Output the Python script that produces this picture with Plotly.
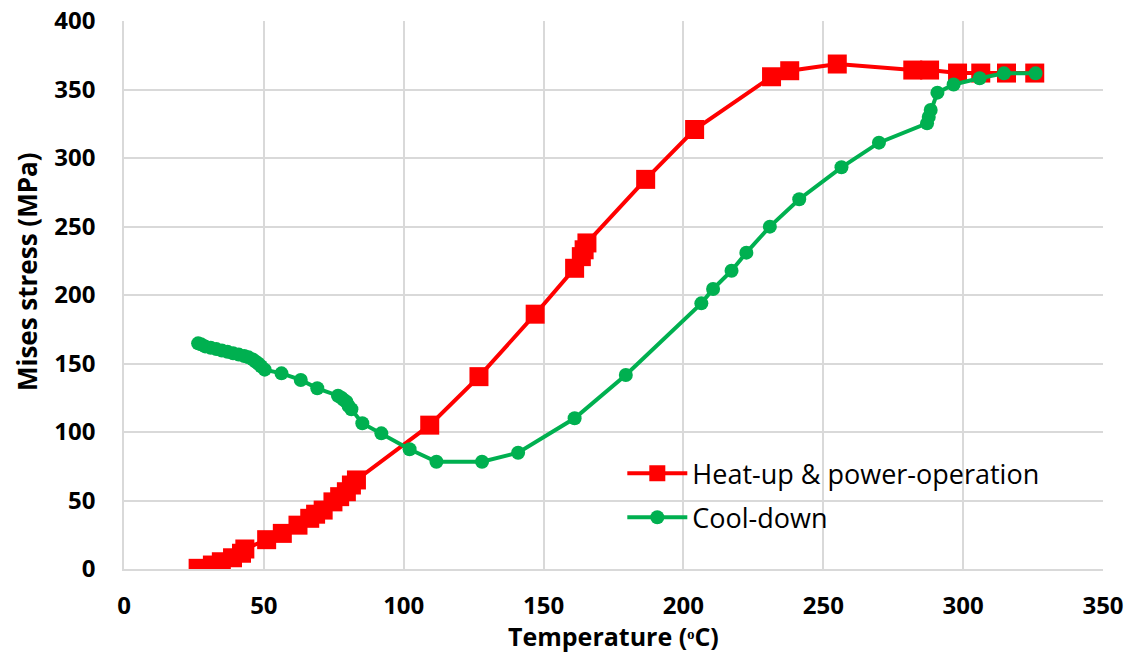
import plotly.graph_objects as go

# Heat-up & power-operation (temperature in degC, Mises stress in MPa)
heat_temp = [26.5, 31.6, 34.8, 38.8, 42.0, 43.2, 51.0, 56.6, 62.2, 66.4, 68.5, 71.2,
             74.7, 77.1, 79.5, 81.3, 83.1, 109.3, 126.9, 147.0, 161.1, 163.5, 164.5,
             165.5, 186.5, 204.0, 231.5, 238.0, 255.0, 282.0, 288.0, 298.0, 306.3,
             315.5, 325.6]
heat_stress = [0.5, 2.9, 5.3, 8.2, 11.5, 14.6, 21.4, 26.0, 32.0, 37.0, 40.0, 43.0,
               49.0, 52.8, 56.4, 61.3, 65.0, 105.0, 140.4, 186.0, 219.5, 228.0, 233.0,
               238.0, 284.4, 320.8, 359.3, 363.7, 368.6, 364.2, 364.2, 362.0, 362.0,
               362.0, 362.0]

# Cool-down
cool_temp = [325.9, 314.6, 305.9, 296.6, 290.8, 288.4, 287.7, 287.1, 269.9, 256.5,
             241.4, 230.9, 222.5, 217.2, 210.6, 206.4, 179.4, 161.1, 140.9, 128.0,
             111.7, 102.1, 92.0, 85.2, 81.3, 80.3, 79.5, 78.5, 77.7, 76.5, 69.1, 63.2,
             56.3, 50.3, 49.0, 48.0, 47.0, 46.0, 44.5, 43.0, 41.0, 39.0, 37.0, 35.0,
             33.0, 31.0, 29.0, 27.5, 26.5]
cool_stress = [361.8, 361.8, 358.2, 353.7, 347.7, 335.0, 330.0, 325.3, 311.2, 293.2,
               269.9, 249.9, 230.9, 217.7, 204.4, 193.9, 141.6, 110.0, 84.9, 78.3,
               78.3, 87.4, 99.0, 106.4, 116.6, 119.0, 122.1, 123.5, 125.0, 126.5, 131.9,
               138.0, 142.8, 145.5, 148.0, 150.0, 151.5, 153.0, 154.5, 155.5, 156.5,
               157.5, 158.5, 159.5, 160.5, 161.5, 162.5, 164.0, 164.7]

x_ticks = [0, 50, 100, 150, 200, 250, 300, 350]
y_ticks = [0, 50, 100, 150, 200, 250, 300, 350, 400]

RED = "#FF0000"
GREEN = "#00B050"
GRID = "#D9D9D9"
FONT = "Open Sans"

fig = go.Figure()
fig.add_trace(go.Scatter(
    x=heat_temp, y=heat_stress, mode="lines+markers",
    name="Heat-up & power-operation", legendgroup="a",
    line=dict(color=RED, width=4),
    marker=dict(symbol="square", size=19, color=RED),
))
fig.add_trace(go.Scatter(
    x=cool_temp, y=cool_stress, mode="lines+markers",
    name="Cool-down", legendgroup="b",
    line=dict(color=GREEN, width=4),
    marker=dict(symbol="circle", size=14, color=GREEN),
))

fig.update_layout(
    width=1133, height=654,
    margin=dict(l=124, r=30, t=21, b=85),
    paper_bgcolor="white", plot_bgcolor="white",
    font=dict(family=FONT, color="#000000"),
    legend=dict(
        x=0.509, y=0.2187, xanchor="left", yanchor="top",
        bgcolor="rgba(0,0,0,0)", font=dict(family=FONT, size=27, color="#000000"),
        itemwidth=60, tracegroupgap=6, traceorder="grouped",
    ),
    xaxis=dict(
        range=[0, 350], tickvals=x_ticks, ticktext=[str(v) for v in x_ticks],
        showgrid=True, gridcolor=GRID, gridwidth=1.5,
        showline=True, linecolor=GRID, linewidth=1.5,
        zeroline=False, ticks="", ticklabelstandoff=14, automargin=False,
        tickfont=dict(family=FONT, size=24, color="#000000", weight="bold"),
    ),
    yaxis=dict(
        range=[0, 400], tickvals=y_ticks, ticktext=[str(v) for v in y_ticks],
        showgrid=True, gridcolor=GRID, gridwidth=1.5,
        showline=True, linecolor=GRID, linewidth=1.5,
        zeroline=False, ticks="", ticklabelstandoff=22, automargin=False,
        tickfont=dict(family=FONT, size=24, color="#000000", weight="bold"),
    ),
    annotations=[
        dict(
            text="Mises stress (MPa)", textangle=-90, xref="paper", yref="paper",
            x=-0.099, y=0.542, xanchor="center", yanchor="middle", showarrow=False,
            font=dict(family=FONT, size=26, color="#000000", weight="bold"),
        ),
        dict(
            text="Temperature (\u1d52C)", xref="paper", yref="paper",
            x=0.5, y=-0.1222, xanchor="center", yanchor="middle", showarrow=False,
            font=dict(family=FONT, size=25, color="#000000", weight="bold"),
        ),
    ],
)

fig.write_html("out.html")
